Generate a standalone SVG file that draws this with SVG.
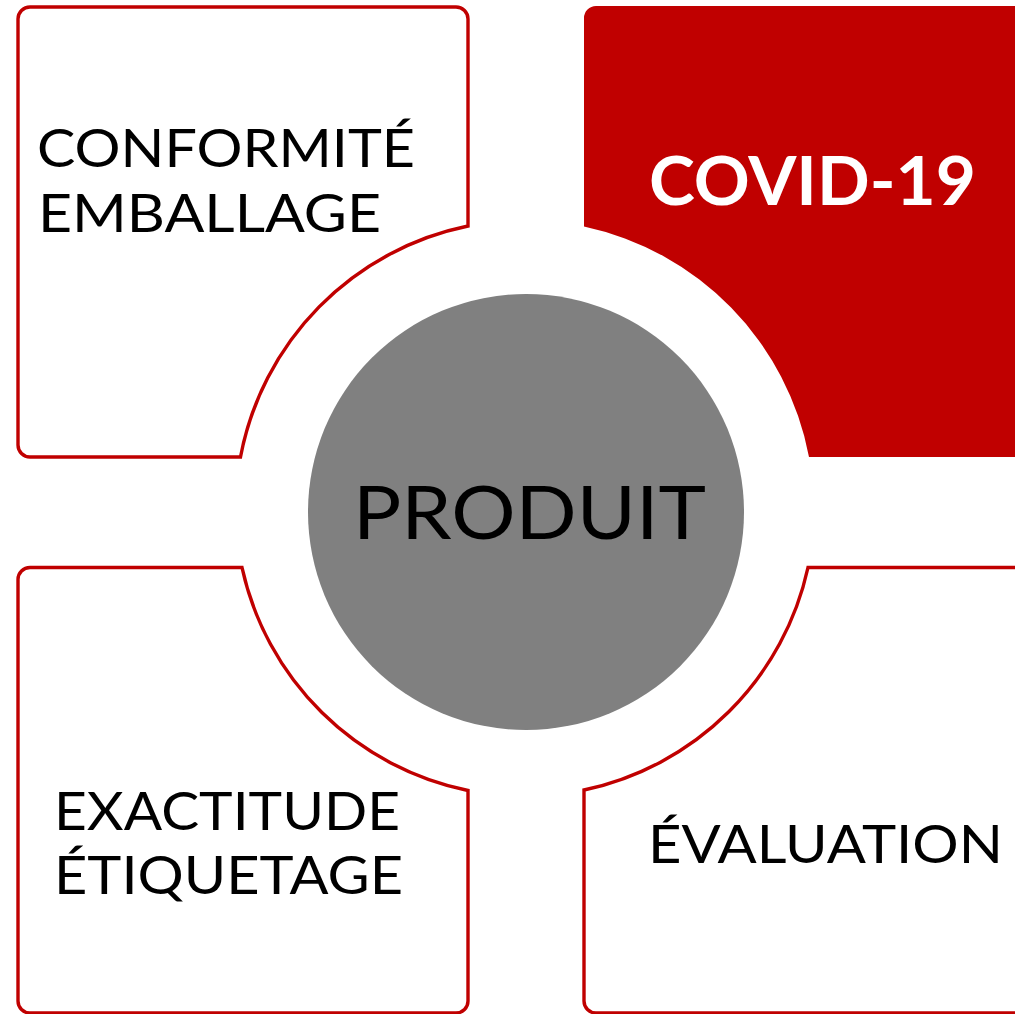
<svg xmlns="http://www.w3.org/2000/svg" width="1015" height="1014" viewBox="0 0 1015 1014">
<style>
.box{fill:#FFFFFF;stroke:#C00000;stroke-width:3.4;stroke-linejoin:miter}
.red{fill:#C00000}
.lbl{font-family:Lato,"Open Sans","DejaVu Sans",sans-serif;font-size:52px;fill:#000000}
.hi{font-family:Lato,"Open Sans","DejaVu Sans",sans-serif;font-size:67px;font-weight:bold;fill:#FFFFFF}
.ctr{font-family:Lato,"Open Sans","DejaVu Sans",sans-serif;font-size:74px;fill:#000000}
</style>
<rect width="1015" height="1014" fill="#FFFFFF"/>
<g id="node-conformite">
<path class="box" d="M30,7 H456 A12,12 0 0 1 468,19 V226 A291,291 0 0 0 240.5,457 H30 A12,12 0 0 1 18,445 V19 A12,12 0 0 1 30,7 Z"/>
<text class="lbl" x="37" y="167" textLength="378" lengthAdjust="spacingAndGlyphs">CONFORMITÉ</text>
<text class="lbl" x="38" y="232" textLength="343" lengthAdjust="spacingAndGlyphs">EMBALLAGE</text>
</g>
<g id="node-covid">
<path class="red" d="M596,6 H1016 V457 H809 A291,291 0 0 0 584,226.5 V18 A12,12 0 0 1 596,6 Z"/>
<text class="hi" x="649" y="205" textLength="327" lengthAdjust="spacingAndGlyphs">COVID-19</text>
</g>
<g id="node-exactitude">
<path class="box" d="M30,567.5 H242 A291,291 0 0 0 468,790.5 V1001 A12,12 0 0 1 456,1013 H30 A12,12 0 0 1 18,1001 V579.5 A12,12 0 0 1 30,567.5 Z"/>
<text class="lbl" x="54" y="830" textLength="346" lengthAdjust="spacingAndGlyphs">EXACTITUDE</text>
<text class="lbl" x="54" y="894" textLength="349" lengthAdjust="spacingAndGlyphs">ÉTIQUETAGE</text>
</g>
<g id="node-evaluation">
<path class="box" d="M1020,567.5 H808 A291,291 0 0 1 584,790 V1001 A12,12 0 0 0 596,1013 H1020"/>
<text class="lbl" x="648" y="863" textLength="355" lengthAdjust="spacingAndGlyphs">ÉVALUATION</text>
</g>
<g id="node-produit">
<circle cx="526" cy="512" r="218" fill="#808080"/>
<text class="ctr" x="353" y="539" textLength="353" lengthAdjust="spacingAndGlyphs">PRODUIT</text>
</g>
<g id="connectors"/>
</svg>
